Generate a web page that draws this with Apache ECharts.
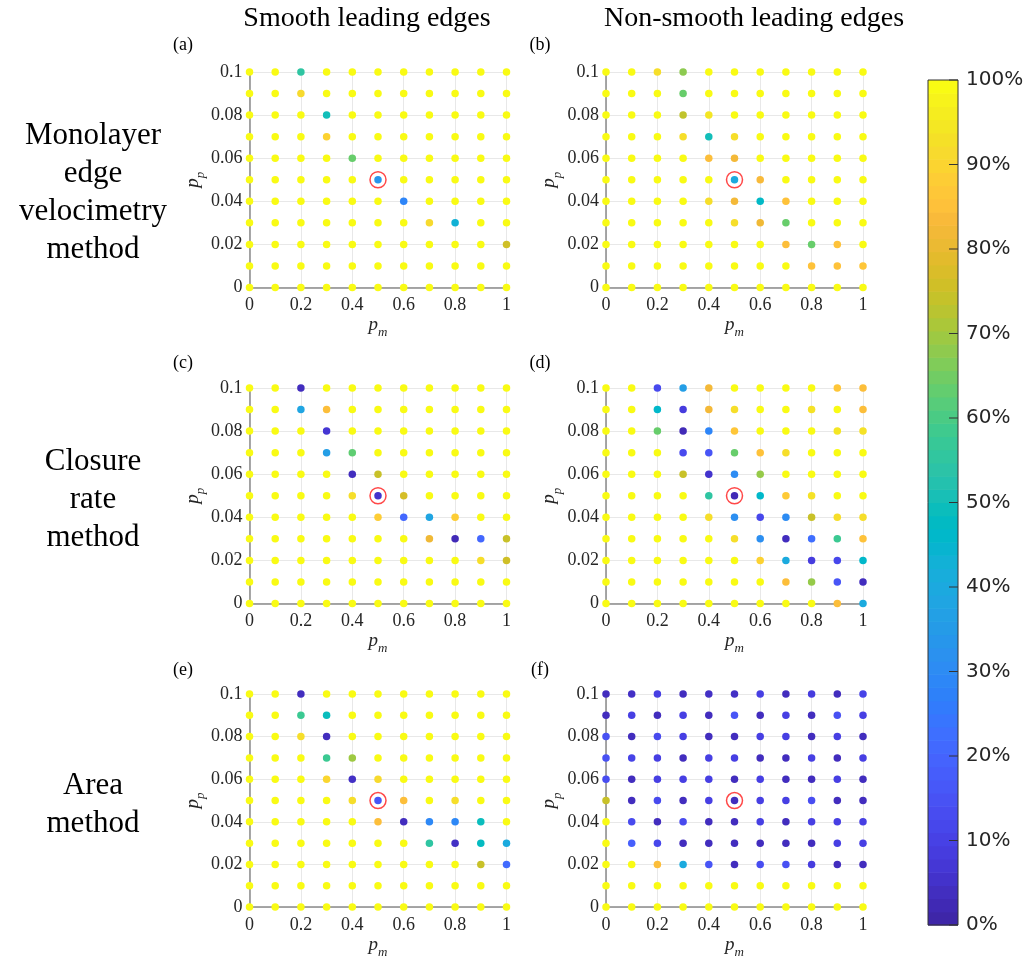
<!DOCTYPE html>
<html><head><meta charset="utf-8">
<script src="https://cdn.jsdelivr.net/npm/echarts@6/dist/echarts.min.js"></script>
<style>html,body{margin:0;padding:0;background:#fff}#chart{width:1030px;height:960px}</style>
</head><body><div id="chart"></div>
<script>
// ---- data ----
const pmValues = [0, 0.1, 0.2, 0.3, 0.4, 0.5, 0.6, 0.7, 0.8, 0.9, 1];
const ppValues = [0.1, 0.09, 0.08, 0.07, 0.06, 0.05, 0.04, 0.03, 0.02, 0.01, 0]; // rows, top to bottom
const highlightPoint = [0.5, 0.05];
const columnTitles = ['Smooth leading edges', 'Non-smooth leading edges'];
const rowTitles = ['Monolayer\nedge\nvelocimetry\nmethod', 'Closure\nrate\nmethod', 'Area\nmethod'];
const panelLabels = ['(a)', '(b)', '(c)', '(d)', '(e)', '(f)'];

// success rate (%) per (pp row, pm column)
const smoothMonolayer = [
  [100,100,55,100,100,100,100,100,100,100,100],
  [100,100,92,100,100,100,100,100,100,100,100],
  [100,100,100,50,100,100,100,100,100,100,100],
  [100,100,100,90,100,100,100,100,100,100,100],
  [100,100,100,100,64,100,100,100,100,100,100],
  [100,100,100,100,100,33,100,100,100,100,100],
  [100,100,100,100,100,100,28,100,100,100,100],
  [100,100,100,100,100,100,100,92,43,100,100],
  [100,100,100,100,100,100,100,100,100,100,76],
  [100,100,100,100,100,100,100,100,100,100,100],
  [100,100,100,100,100,100,100,100,100,100,100]
];
const nonSmoothMonolayer = [
  [100,100,93,68,100,100,100,100,100,100,100],
  [100,100,100,64,100,100,100,100,100,100,100],
  [100,100,100,74,95,100,100,100,100,100,100],
  [100,100,100,93,50,93,100,100,100,100,100],
  [100,100,100,100,85,83,100,100,100,100,100],
  [100,100,100,100,100,40,84,100,100,100,100],
  [100,100,100,100,93,83,47,86,100,100,100],
  [100,100,100,100,100,93,82,64,100,100,100],
  [100,100,100,100,100,100,100,85,64,86,100],
  [100,100,100,100,100,100,100,100,86,86,87],
  [100,100,100,100,100,100,100,100,100,100,100]
];
const smoothClosure = [
  [100,100,3,100,100,100,100,100,100,100,100],
  [100,100,38,85,100,100,100,100,100,100,100],
  [100,100,100,6,100,100,100,100,100,100,100],
  [100,100,100,36,63,100,100,100,100,100,100],
  [100,100,100,100,3,75,100,100,100,100,100],
  [100,100,100,100,93,5,77,100,100,100,100],
  [100,100,100,100,100,89,20,38,89,100,100],
  [100,100,100,100,100,100,100,82,2,20,75],
  [100,100,100,100,100,100,100,100,100,93,76],
  [100,100,100,100,100,100,100,100,100,100,100],
  [100,100,100,100,100,100,100,100,100,100,100]
];
const nonSmoothClosure = [
  [100,100,12,36,83,100,100,100,100,87,85],
  [100,100,46,8,83,93,100,100,94,100,85],
  [100,100,64,2,28,87,100,100,100,95,94],
  [100,100,100,12,15,64,86,93,100,100,100],
  [100,100,100,75,5,30,69,100,100,100,100],
  [100,100,100,100,55,2,46,88,94,100,100],
  [100,100,100,100,93,31,11,30,75,93,93],
  [100,100,100,100,100,93,31,3,22,58,86],
  [100,100,100,100,100,100,90,40,8,11,46],
  [100,100,100,100,100,100,100,85,69,15,3],
  [100,100,100,100,100,100,100,100,100,85,40]
];
const smoothArea = [
  [100,100,3,100,100,100,100,100,100,100,100],
  [100,100,58,49,100,100,100,100,100,100,100],
  [100,100,93,3,100,100,100,100,100,100,100],
  [100,100,100,58,70,100,100,100,100,100,100],
  [100,100,100,91,4,92,100,100,100,100,100],
  [100,100,100,100,93,15,85,100,93,100,100],
  [100,100,100,100,100,85,3,29,29,49,100],
  [100,100,100,100,100,100,100,55,4,48,40],
  [100,100,100,100,100,100,100,100,100,75,21],
  [100,100,100,100,100,100,100,100,100,100,100],
  [100,100,100,100,100,100,100,100,100,100,100]
];
const nonSmoothArea = [
  [3,4,9,3,4,4,9,3,8,3,10],
  [3,9,3,9,3,15,3,9,3,14,9],
  [14,3,12,9,3,3,9,9,3,9,3],
  [14,10,9,3,9,9,3,3,9,3,9],
  [13,3,9,9,9,3,9,3,3,9,3],
  [75,3,12,3,9,3,9,9,13,3,3],
  [100,12,3,12,3,3,9,3,9,9,9],
  [100,18,11,3,3,3,3,3,3,9,9],
  [100,100,85,40,15,3,13,14,8,3,3],
  [100,100,100,100,100,100,100,100,100,100,100],
  [100,100,100,100,100,100,100,100,100,100,100]
];
const panels = [smoothMonolayer, nonSmoothMonolayer, smoothClosure, nonSmoothClosure, smoothArea, nonSmoothArea];

// ---- styling ----
const parula = ['#3e26a8','#4029b4','#422ebf','#4332cb','#4537d5','#463cde','#4741e5','#4747eb','#484cf0','#4852f4','#4758f8','#465dfb','#4563fd','#4269fe','#3e6fff','#3875fe','#327bfc','#2e81f9','#2d87f7','#2d8cf3','#2b91ef','#2796eb','#259be7','#23a0e5','#20a5e2','#1ca9df','#18addb','#12b1d6','#08b4d0','#01b8ca','#02bac3','#0bbdbc','#18bfb6','#24c1ae','#2cc3a7','#31c69f','#37c897','#3fca8e','#4acb84','#57cc7a','#63cd6f','#71cc64','#80cc59','#8fca4e','#9dc943','#abc739','#b9c431','#c5c22a','#d0bf27','#dabd29','#e3bb2c','#ebba33','#f2b937','#f9ba3a','#fec13a','#fec738','#fdcd35','#fbd430','#f7da2e','#f5e027','#f4e723','#f5ed1f','#f7f31b','#f9fb14'];
const serif = '"Liberation Serif", "DejaVu Serif", serif';
const labelColor = '#262626';
const colLeft = [249.5, 606];
const rowTop = [72, 388, 694];
const panelW = 257, panelH = 215.5;

const grids = [], xAxes = [], yAxes = [], series = [];
const nameRich = {
  i: {fontFamily: serif, fontStyle: 'italic', fontSize: 19, color: labelColor, verticalAlign: 'bottom', lineHeight: 26, padding: [0, 0, 5, 0]},
  s: {fontFamily: serif, fontStyle: 'italic', fontSize: 13, color: labelColor, verticalAlign: 'bottom', lineHeight: 16}
};
panels.forEach((vals, k) => {
  const r = Math.floor(k / 2), c = k % 2;
  grids.push({left: colLeft[c], top: rowTop[r], width: panelW, height: panelH, containLabel: false});
  xAxes.push({
    type: 'value', gridIndex: k, min: 0, max: 1, interval: 0.2,
    axisLine: {show: true, onZero: false, lineStyle: {color: '#8a8a8a', width: 1.5}},
    axisTick: {show: false},
    axisLabel: {color: labelColor, fontFamily: serif, fontSize: 18, margin: 9},
    splitLine: {show: true, lineStyle: {color: '#e8e8e8', width: 1}},
    name: '{i|p}{s|m}', nameLocation: 'middle', nameGap: 24,
    nameTextStyle: {rich: nameRich}
  });
  yAxes.push({
    type: 'value', gridIndex: k, min: 0, max: 0.1, interval: 0.02,
    axisLine: {show: true, onZero: false, lineStyle: {color: '#8a8a8a', width: 1.5}},
    axisTick: {show: false},
    axisLabel: {color: labelColor, fontFamily: serif, fontSize: 18, margin: 7},
    splitLine: {show: true, lineStyle: {color: '#e8e8e8', width: 1}},
    name: '{i|p}{s|p}', nameLocation: 'middle', nameGap: 34,
    nameTextStyle: {rich: nameRich}
  });
  const data = [];
  vals.forEach((row, i) => row.forEach((v, j) => data.push([pmValues[j], ppValues[i], v])));
  series.push({
    type: 'scatter', xAxisIndex: k, yAxisIndex: k, data: data, symbolSize: 7.5, clip: false,
    itemStyle: {opacity: 1}, z: 3
  });
});
panels.forEach((vals, k) => {
  series.push({
    type: 'scatter', xAxisIndex: k, yAxisIndex: k, data: [highlightPoint], symbolSize: 16, clip: false,
    itemStyle: {color: 'rgba(0,0,0,0)', borderColor: '#ff1a1a', borderWidth: 1.5}, z: 4, silent: true
  });
});

// colorbar
const cb = 6;
grids.push({left: 928, top: 80, width: 30, height: 845});
xAxes.push({type: 'value', gridIndex: cb, min: 0, max: 1, show: false});
yAxes.push({type: 'value', gridIndex: cb, min: 0, max: 100, interval: 10, position: 'right', z: 10,
  axisLine: {show: false},
  axisTick: {show: false},
  axisLabel: {color: labelColor, fontFamily: '"DejaVu Sans", sans-serif', fontSize: 20, margin: 8, formatter: '{value}%'},
  splitLine: {show: false}});
const bins = parula.map((col, i) => [i * 100 / parula.length, (i + 1) * 100 / parula.length]);
series.push({
  type: 'custom', xAxisIndex: 6, yAxisIndex: 6, data: bins, silent: true, z: 1, clip: false,
  renderItem: function (params, api) {
    const lo = api.value(0), hi = api.value(1);
    const p1 = api.coord([0, hi]);
    const p2 = api.coord([1, lo]);
    return {type: 'rect', shape: {x: p1[0], y: p1[1], width: p2[0] - p1[0], height: p2[1] - p1[1] + 0.6},
      style: {fill: parula[params.dataIndex]}};
  }
});
// colorbar frame and inward ticks (drawn from the colorbar axis scale)
const cbTicks = [0, 10, 20, 30, 40, 50, 60, 70, 80, 90, 100];
series.push({
  type: 'custom', xAxisIndex: 6, yAxisIndex: 6, data: [[0, 100]], silent: true, z: 5, clip: false,
  renderItem: function (params, api) {
    const tl = api.coord([0, 100]);
    const br = api.coord([1, 0]);
    const children = [{type: 'rect', shape: {x: tl[0], y: tl[1], width: br[0] - tl[0], height: br[1] - tl[1]},
      style: {fill: 'none', stroke: '#333', lineWidth: 1}}];
    cbTicks.forEach(t => {
      const p = api.coord([1, t]);
      children.push({type: 'line', shape: {x1: p[0] - 9, y1: p[1], x2: p[0], y2: p[1]}, style: {stroke: '#333', lineWidth: 1}});
    });
    return {type: 'group', children: children};
  }
});

// texts
const graphics = [];
const colCenters = [367, 754];
columnTitles.forEach((t, c) => graphics.push({type: 'text', x: colCenters[c], y: 19,
  style: {text: t, fill: '#000', font: '28px ' + serif, align: 'center', verticalAlign: 'middle'}}));
const rowCenters = [193, 500, 805];
rowTitles.forEach((t, r) => graphics.push({type: 'text', x: 93, y: rowCenters[r],
  style: {text: t, fill: '#000', font: '31px ' + serif, align: 'center', verticalAlign: 'middle', lineHeight: 38}}));
const labelPos = [[183, 45], [540, 45], [183, 363], [540, 363], [183, 670], [540, 670]];
panelLabels.forEach((t, k) => graphics.push({type: 'text', x: labelPos[k][0], y: labelPos[k][1],
  style: {text: t, fill: '#000', font: '18px ' + serif, align: 'center', verticalAlign: 'middle'}}));

const chart = echarts.init(document.getElementById('chart'), null, {renderer: 'canvas'});
chart.setOption({
  backgroundColor: '#fff',
  animation: false,
  grid: grids, xAxis: xAxes, yAxis: yAxes, series: series,
  visualMap: {type: 'continuous', show: false, min: 0, max: 100, dimension: 2,
    seriesIndex: [0, 1, 2, 3, 4, 5], inRange: {color: parula}},
  graphic: graphics
});
</script></body></html>
